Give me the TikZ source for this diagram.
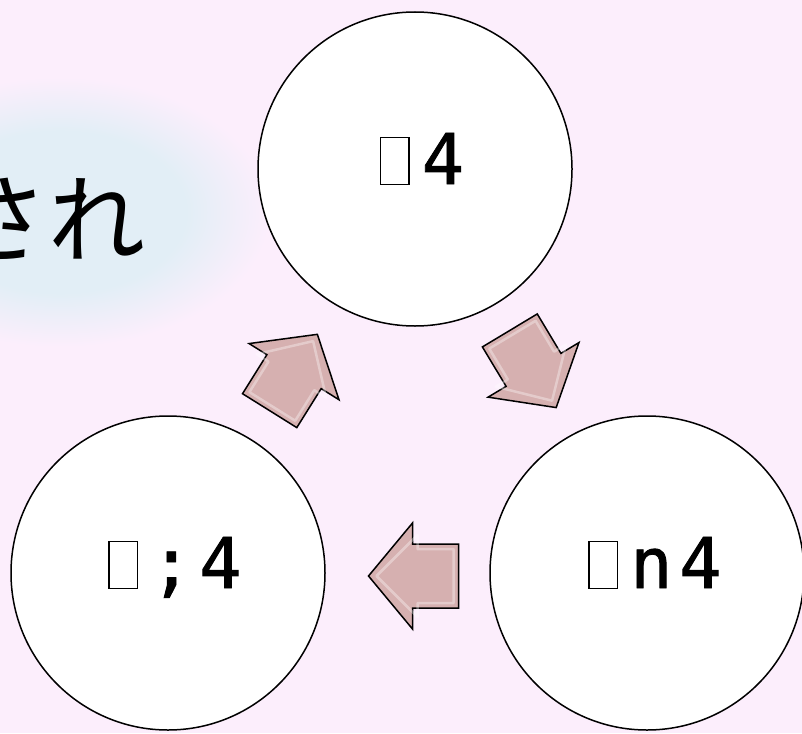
\documentclass[tikz,border=0pt]{standalone}
\usepackage{fontspec}
\newfontfamily\cjk{Noto Sans CJK JP}
\newfontfamily\labfont{DejaVu Sans Mono}[LetterSpace=10,FakeBold=1.2]
\definecolor{bg}{RGB}{252,238,252}
\definecolor{glow}{RGB}{226,238,246}
\definecolor{arrowpink}{RGB}{214,176,176}
\pgfdeclareradialshading{glowshade}{\pgfpoint{0bp}{0bp}}{color(0bp)=(glow); color(15bp)=(glow); color(25bp)=(bg); color(50bp)=(bg)}
\newcommand\tofu{{\fboxsep=0pt\fboxrule=1.4pt\hspace{4pt}\fbox{\rule{0pt}{46pt}\hspace{27pt}}\hspace{12pt}}}
\newcommand\blockarrow[3]{%
  \path[barrow, shift={(#1,#2)}, rotate=#3]
    (-45,32) -- (1,32) -- (1,53) -- (45,0) -- (1,-53) -- (1,-32) -- (-45,-32) -- cycle;
  \draw[white, opacity=0.35, line width=2.5pt, line join=round, shift={(#1,#2)}, rotate=#3]
    (-40,27) -- (-4,27) -- (-4,41) -- (37,0) -- (-4,-41) -- (-4,-27) -- (-40,-27) -- cycle;
}
\begin{document}
\begin{tikzpicture}[x=1pt,y=-1pt,
  circ/.style={circle, draw=black, line width=1.5pt, fill=white, minimum size=314pt, inner sep=0pt},
  lab/.style={font=\labfont\fontsize{70}{70}\selectfont, inner sep=0pt, anchor=base},
  barrow/.style={fill=arrowpink, draw=black, line width=1.5pt, line join=miter}]
\useasboundingbox (0,0) rectangle (802,733);
\fill[bg] (0,0) rectangle (802,733);
\shade[shading=glowshade] (60,212) ellipse [x radius=210, y radius=135];
\node[font=\cjk\fontsize{97}{97}\selectfont, inner sep=0pt, anchor=east] (sare) at (146,219) {され};
\node[circ] (ctop) at (415,169) {};
\node[circ] (cleft) at (168,573) {};
\node[circ] (cright) at (647,573) {};
\node[lab] (ttop) at (420,184) {\tofu 4};
\node[lab] (tleft) at (173,588) {\tofu;4};
\node[lab] (tright) at (653,588) {\tofu n4};
\blockarrow{293.5}{372.5}{58}
\blockarrow{533}{369}{-59}
\blockarrow{413.5}{576}{180}
\end{tikzpicture}
\end{document}
